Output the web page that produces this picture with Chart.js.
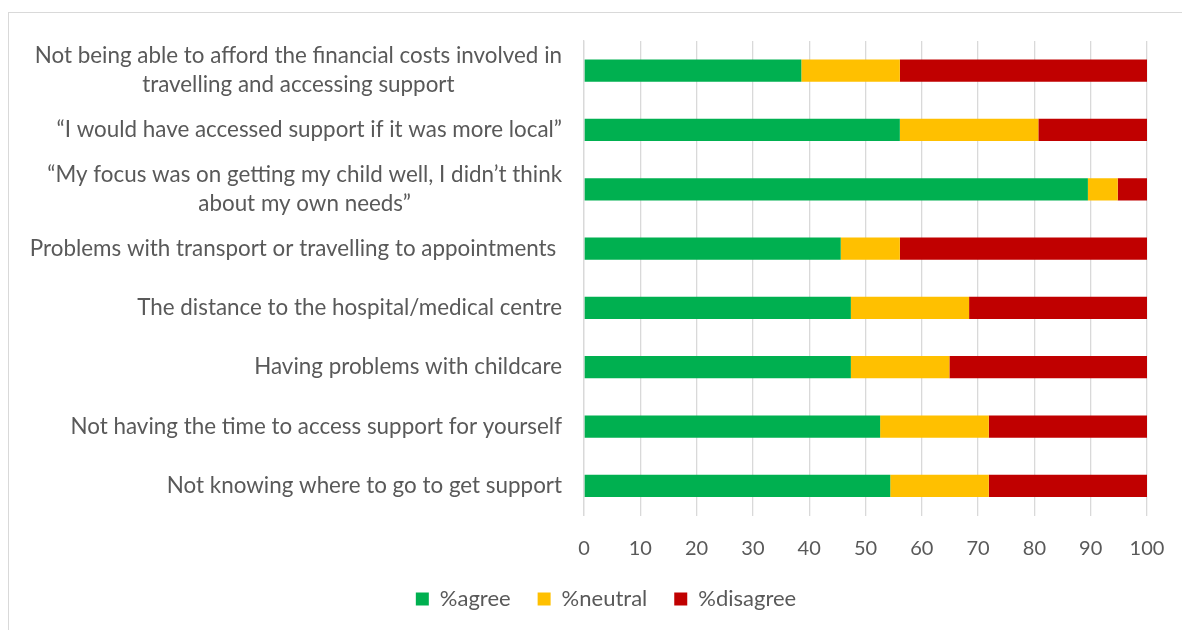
<!DOCTYPE html>
<html>
<head>
<meta charset="utf-8">
<script src="https://cdn.jsdelivr.net/npm/chart.js@4/dist/chart.umd.min.js"></script>
<style>
  html, body { margin: 0; padding: 0; background: #fff; }
  #frame { position: absolute; left: 8px; top: 12px; width: 1200px; height: 640px; border: 1px solid #d9d9d9; }
  #wrap { position: absolute; left: 0; top: 0; width: 1182px; height: 630px; }
</style>
</head>
<body>
<div id="frame"></div>
<div id="wrap"><canvas id="bar-chart"></canvas></div>
<script>
var categories = [
  ["Not being able to afford the financial costs involved in", "travelling and accessing support"],
  "\u201cI would have accessed support if it was more local\u201d",
  ["\u201cMy focus was on getting my child well, I didn\u2019t think", "about my own needs\u201d"],
  "Problems with transport or travelling to appointments ",
  "The distance to the hospital/medical centre",
  "Having problems with childcare",
  "Not having the time to access support for yourself",
  "Not knowing where to go to get support"
];
var agree    = [38.6, 56.1, 89.5, 45.6, 47.4, 47.4, 52.6, 54.4];
var neutral  = [17.5, 24.6,  5.3, 10.5, 21.0, 17.5, 19.3, 17.5];
var disagree = [43.9, 19.3,  5.2, 43.9, 31.6, 35.1, 28.1, 28.1];
var xTicks = [0, 10, 20, 30, 40, 50, 60, 70, 80, 90, 100];

var FONT = "Lato";
var TEXT = "#595959";

// category labels: right aligned at the axis, wrapped lines centred on each other
var categoryLabels = {
  id: "categoryLabels",
  afterDraw: function(chart) {
    var ctx = chart.ctx;
    var y = chart.scales.y;
    var right = chart.chartArea.left - 22;
    var lineH = 29;
    ctx.save();
    ctx.font = "22.4px " + FONT;
    ctx.fillStyle = TEXT;
    ctx.textBaseline = "middle";
    ctx.textAlign = "center";
    categories.forEach(function(lab, i) {
      var lines = Array.isArray(lab) ? lab : [lab];
      var w = Math.max.apply(null, lines.map(function(l) { return ctx.measureText(l).width; }));
      var cx = right - w / 2;
      var cy = y.getPixelForTick(i) - (lines.length - 1) * lineH / 2;
      lines.forEach(function(l, k) { ctx.fillText(l, cx, cy + k * lineH); });
    });
    ctx.restore();
  }
};

new Chart(document.getElementById("bar-chart"), {
  type: "bar",
  data: {
    labels: categories,
    datasets: [
      { label: "%agree", backgroundColor: "#00B050", data: agree },
      { label: "%neutral", backgroundColor: "#FFC000", data: neutral },
      { label: "%disagree", backgroundColor: "#C00000", data: disagree }
    ]
  },
  plugins: [categoryLabels],
  options: {
    indexAxis: "y",
    responsive: true,
    maintainAspectRatio: false,
    animation: false,
    categoryPercentage: 1,
    barPercentage: 0.375,
    layout: { padding: { left: 65, right: 35, top: 41, bottom: 10 } },
    scales: {
      x: {
        stacked: true,
        min: 0,
        max: 100,
        afterBuildTicks: function(scale) { scale.ticks = xTicks.map(function(v) { return { value: v }; }); },
        afterFit: function(scale) {
          scale.paddingRight = 0;
          scale.height = 45.5;
        },
        grid: { color: "#d9d9d9", lineWidth: 1.3, drawTicks: false },
        border: { display: false },
        ticks: { color: TEXT, font: { family: FONT, size: 20 }, padding: 21.5, maxRotation: 0 }
      },
      y: {
        stacked: true,
        grid: { display: false, drawTicks: false },
        border: { display: true, color: "#d9d9d9", width: 1.3 },
        ticks: { display: false },
        afterFit: function(scale) { scale.width = 519; }
      }
    },
    plugins: {
      legend: {
        position: "bottom",
        labels: { color: TEXT, font: { family: FONT, size: 22 }, boxWidth: 13, boxHeight: 13, padding: 27 }
      },
      tooltip: { enabled: false }
    }
  }
});
</script>
</body>
</html>
